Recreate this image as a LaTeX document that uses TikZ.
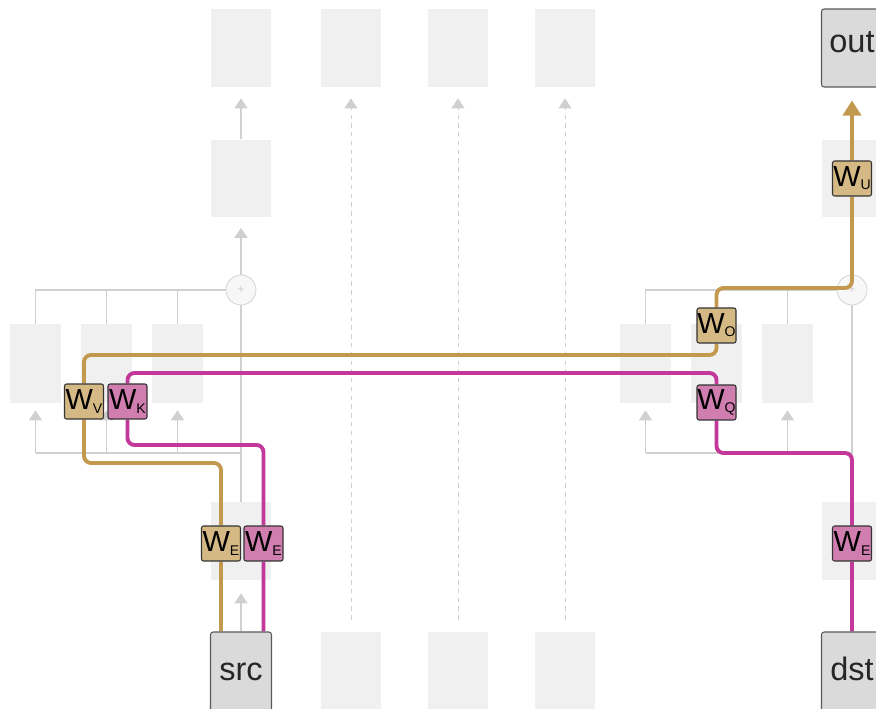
\documentclass[tikz,border=0pt]{standalone}
\usepackage{fontspec}
\setmainfont{Liberation Sans}
\usepackage{xcolor}
\usetikzlibrary{arrows.meta,positioning}

\pgfdeclarelayer{fondo}
\pgfdeclarelayer{lineas}
\pgfsetlayers{fondo,lineas,main}

\definecolor{tenue}{HTML}{F0F0F0}
\definecolor{grisl}{HTML}{D0D0D0}
\definecolor{caja}{HTML}{DADADA}
\definecolor{oro}{HTML}{C3984F}
\definecolor{orofondo}{HTML}{D5B985}
\definecolor{mag}{HTML}{C2389B}
\definecolor{magfondo}{HTML}{D07DAF}

\newcommand{\Wsub}[1]{W\raisebox{-0.2ex}{\fontsize{8}{8}\selectfont #1}}

\tikzset{
  bloque/.style={fill=tenue, minimum width=1.22cm, minimum height=1.56cm, inner sep=0pt},
  atenc/.style={fill=tenue, minimum width=1.02cm, minimum height=1.58cm, inner sep=0pt},
  suma/.style={circle, draw=grisl, fill=black!3, minimum size=0.6cm, inner sep=0pt,
    text=grisl, font=\fontsize{7}{7}\selectfont},
  io/.style={draw=black!65, fill=caja, line width=0.6pt, rounded corners=1.5pt,
    minimum width=1.22cm, inner sep=0pt, text height=0.52em, text depth=0pt,
    font=\fontsize{18.5}{18.5}\selectfont, text=black!85},
  peso/.style={draw=black!80, line width=0.6pt, rounded corners=1.2pt,
    minimum width=0.78cm, minimum height=0.70cm, inner sep=0pt,
    font=\fontsize{16.5}{16.5}\selectfont},
  pesooro/.style={peso, fill=orofondo},
  pesomag/.style={peso, fill=magfondo},
  linea/.style={draw=grisl, line width=0.8pt},
  flecha/.style={linea, -{Triangle[length=0.2cm,width=0.26cm]}},
  punteado/.style={flecha, line width=0.5pt, dash pattern=on 2.5pt off 2.5pt},
  hilooro/.style={draw=oro, line width=2.2pt, rounded corners=4pt},
  hilomag/.style={draw=mag, line width=2.2pt, rounded corners=4pt}
}

\begin{document}
\begin{tikzpicture}[x=0.02cm,y=-0.02cm]
  \useasboundingbox (0,0) rectangle (876,709);
  \clip (0,0) rectangle (876,709);

  \begin{pgfonlayer}{fondo}
  % Columna de la fuente
  \node[bloque] (c1a) at (241,48) {};
  \node[bloque] (c1b) at (241,178.5) {};
  \node[bloque] (webL) at (241,541) {};
  \node[suma] (sL) at (241,290) {+};

  % Columnas intermedias
  \foreach \i/\x in {2/351,3/458,4/565} {
    \node[bloque] (t\i) at (\x,48) {};
    \node[bloque, minimum height=1.76cm] (b\i) at (\x,676) {};
    \draw[punteado, shorten <=0.24cm, shorten >=0.22cm] (b\i.north) -- (t\i.south);
  }

  % Columna del destino
  \node[bloque] (c5b) at (852,178.5) {};
  \node[bloque] (webR) at (852,541) {};
  \node[suma] (sR) at (852,290) {+};

  % Bloque de atención izquierdo
  \node[atenc] (aA) at (35.5,363.5) {};
  \node[atenc] (aB) at (106.5,363.5) {};
  \node[atenc] (aC) at (177.5,363.5) {};
  \coordinate (jL) at (241,453);

  % Bloque de atención derecho
  \node[atenc] (aD) at (645.5,363.5) {};
  \node[atenc] (aE) at (716.5,363.5) {};
  \node[atenc] (aF) at (787.5,363.5) {};
  \coordinate (jR) at (852,453);

  % Conexiones grises
  \draw[flecha, shorten >=0.22cm] (c1b.north) -- (c1a.south);
  \draw[flecha, shorten >=0.2cm] (sL.north) -- (c1b.south);
  \draw[linea] (sL.south) -- (webL.north);
  \draw[linea] (sR.south) -- (webR.north);
  \draw[linea] (sL.west) -| (aA.north);
  \draw[linea] (aB.north) -- (aB.north |- sL);
  \draw[linea] (aC.north) -- (aC.north |- sL);
  \draw[linea] (aA.south |- jL) -- (jL);
  \foreach \n in {aA,aB,aC}
    \draw[flecha, shorten >=0.14cm] (\n.south |- jL) -- (\n.south);
  \draw[linea] (sR.west) -| (aD.north);
  \draw[linea] (aE.north) -- (aE.north |- sR);
  \draw[linea] (aF.north) -- (aF.north |- sR);
  \draw[linea] (aD.south |- jR) -- (jR);
  \foreach \n in {aD,aE,aF}
    \draw[flecha, shorten >=0.14cm] (\n.south |- jR) -- (\n.south);
  \end{pgfonlayer}

  % Entradas y salida
  \node[io, minimum height=1.76cm] (src) at (241,676) {src};
  \node[io, minimum height=1.76cm] (dst) at (852,676) {dst};
  \node[io, minimum height=1.56cm] (out) at (852,48) {out};
  \draw[flecha, shorten >=0.26cm] (src.north) -- (webL.south);

  % Pesos
  \node[pesooro] (wEo) at (221,543.5) {\Wsub{E}};
  \node[pesomag] (wEm) at (263.5,543.5) {\Wsub{E}};
  \node[pesomag] (wEd) at (852,543.5) {\Wsub{E}};
  \node[pesooro] (wV) at (84,401.5) {\Wsub{V}};
  \node[pesomag] (wK) at (127.5,401.5) {\Wsub{K}};
  \node[pesooro] (wO) at (716.5,325.5) {\Wsub{O}};
  \node[pesomag] (wQ) at (716.5,402.5) {\Wsub{Q}};
  \node[pesooro] (wU) at (852,178.5) {\Wsub{U}};

  % Caminos de color
  \begin{pgfonlayer}{lineas}
  \draw[hilooro, -{Triangle[length=0.3cm,width=0.36cm]}, shorten >=0.26cm]
    (src.north -| wEo) -- (wEo) |- (wV |- 0,463) -- (wV) |- (wO |- 0,355)
    -- (wO) |- (wU |- 0,288) -- (wU) -- (out.south);
  \draw[hilomag]
    (src.north -| wEm) -- (wEm) |- (wK |- 0,445) -- (wK) |- (wQ |- 0,373)
    -- (wQ) |- (wEd |- 0,453) -- (wEd) -- (dst.north);
  \end{pgfonlayer}
\end{tikzpicture}
\end{document}
